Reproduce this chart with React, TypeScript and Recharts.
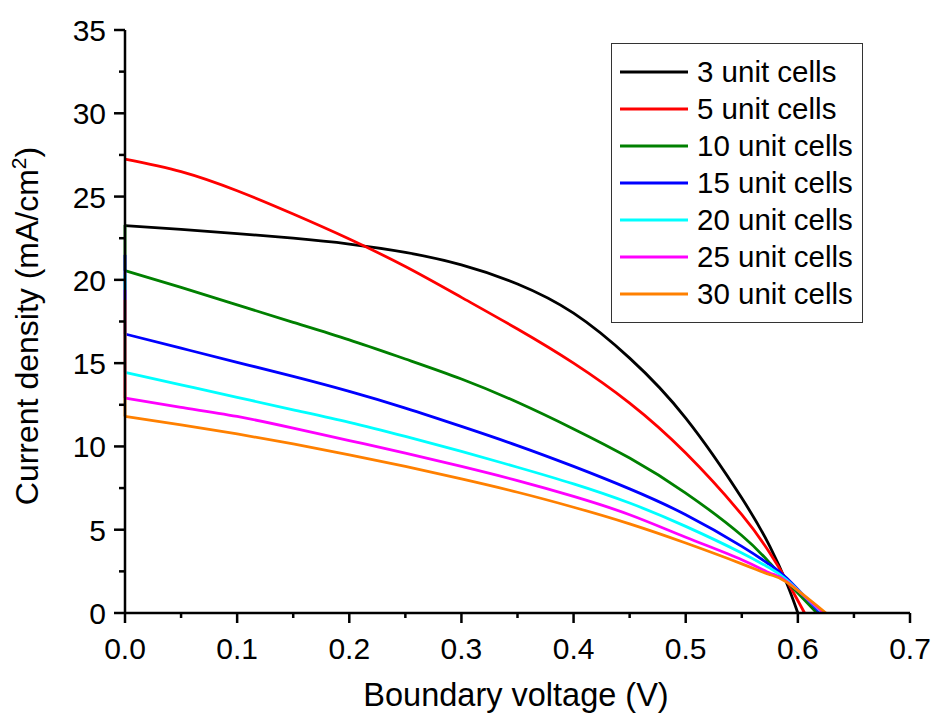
import { Legend, Line, LineChart, XAxis, YAxis } from "recharts";

// shared voltage grid (V); each series ends at its own open-circuit voltage
const voltages = [0, 0.05, 0.1, 0.15, 0.2, 0.25, 0.3, 0.35, 0.4, 0.45, 0.5, 0.55, 0.575, 0.59];

const j3 = [23.25, 23.03, 22.78, 22.5, 22.15, 21.65, 20.9, 19.75, 18.0, 15.3, 11.7, 6.9, 4.0, 1.8];
const j5 = [27.25, 26.5, 25.35, 23.95, 22.45, 20.8, 18.95, 17.05, 15.0, 12.6, 9.6, 5.9, 3.6, 1.95];
const j10 = [20.55, 19.55, 18.5, 17.45, 16.4, 15.25, 14.05, 12.65, 11.05, 9.3, 7.2, 4.65, 3.0, 1.9];
const j15 = [16.75, 15.9, 15.05, 14.2, 13.3, 12.3, 11.2, 10.05, 8.8, 7.45, 5.9, 4.0, 2.9, 2.1];
const j20 = [14.45, 13.7, 12.95, 12.2, 11.45, 10.6, 9.7, 8.75, 7.75, 6.6, 5.2, 3.6, 2.7, 2.0];
const j25 = [12.9, 12.35, 11.8, 11.1, 10.35, 9.6, 8.8, 7.95, 7.0, 5.9, 4.55, 3.2, 2.4, 1.9];
const j30 = [11.8, 11.3, 10.75, 10.15, 9.5, 8.8, 8.05, 7.25, 6.35, 5.35, 4.2, 2.95, 2.3, 1.85];

const seriesNames = ["3 unit cells", "5 unit cells", "10 unit cells", "15 unit cells", "20 unit cells", "25 unit cells", "30 unit cells"];
const seriesColors = ["#000000", "#ff0000", "#008000", "#0000ff", "#00ffff", "#ff00ff", "#ff8000"];
const seriesCurrents = [j3, j5, j10, j15, j20, j25, j30];
const openCircuit = [0.6, 0.606, 0.617, 0.62, 0.622, 0.623, 0.625];
// short vertical jump at V = 0 (null = none visible)
const spikeTops = [null, null, 23.3, 21.5, 20.3, 19.4, 18.8];

const xMajor = [0, 0.1, 0.2, 0.3, 0.4, 0.5, 0.6, 0.7];
const xMinor = [0.05, 0.15, 0.25, 0.35, 0.45, 0.55, 0.65];
const yMajor = [0, 5, 10, 15, 20, 25, 30, 35];
const yMinor = [2.5, 7.5, 12.5, 17.5, 22.5, 27.5, 32.5];

const FONT = "'Liberation Sans', Arial, sans-serif";

const series = seriesNames.map((name, i) => ({
  name,
  color: seriesColors[i],
  data: [
    ...voltages.map((v, k) => ({ v, j: seriesCurrents[i][k] })),
    { v: openCircuit[i], j: 0 },
  ],
  spike: spikeTops[i] == null ? null : [
    { v: 0, j: spikeTops[i] },
    { v: 0, j: seriesCurrents[i][0] },
  ],
}));

const isMajor = (list: number[], val: number) => list.some((m) => Math.abs(m - val) < 1e-6);

function XTick({ x, y, payload }: any) {
  const major = isMajor(xMajor, payload.value);
  return (
    <g>
      <line x1={x} x2={x} y1={y} y2={y + (major ? 10 : 5)} stroke="#000" strokeWidth={2.5} />
      {major && (
        <text x={x} y={y + 46} textAnchor="middle" fontSize={30} fontFamily={FONT} fill="#000">
          {payload.value.toFixed(1)}
        </text>
      )}
    </g>
  );
}

function YTick({ x, y, payload }: any) {
  const major = isMajor(yMajor, payload.value);
  return (
    <g>
      <line x1={x} x2={x - (major ? 11 : 6)} y1={y} y2={y} stroke="#000" strokeWidth={2.5} />
      {major && (
        <text x={x - 19} y={y + 11} textAnchor="end" fontSize={30} fontFamily={FONT} fill="#000">
          {payload.value}
        </text>
      )}
    </g>
  );
}

function LegendBox() {
  return (
    <div
      style={{
        width: 252,
        height: 280,
        boxSizing: "border-box",
        border: "1.5px solid #333",
        background: "#fff",
        paddingTop: 9,
      }}
    >
      {series.map((s) => (
        <div key={s.name} style={{ display: "flex", alignItems: "center", height: 37 }}>
          <svg width={68} height={6} style={{ marginLeft: 8 }}>
            <line x1={0} x2={68} y1={3} y2={3} stroke={s.color} strokeWidth={3} />
          </svg>
          <span style={{ marginLeft: 9, fontSize: 29.5, fontFamily: FONT, color: "#000", lineHeight: "37px" }}>
            {s.name}
          </span>
        </div>
      ))}
    </div>
  );
}

export default function App() {
  return (
    <div style={{ position: "absolute", left: 0, top: 0, width: 933, height: 713, background: "#fff" }}>
      <LineChart width={933} height={713} margin={{ top: 30, right: 23, left: 0, bottom: 0 }}>
        <XAxis
          type="number"
          dataKey="v"
          domain={[0, 0.7]}
          ticks={[...xMajor, ...xMinor].sort((a, b) => a - b)}
          interval={0}
          height={100}
          tickSize={0}
          tickMargin={0}
          tickLine={false}
          axisLine={{ stroke: "#000", strokeWidth: 2.5 }}
          tick={<XTick />}
          allowDuplicatedCategory={false}
          label={{
            content: () => (
              <text x={516} y={706} textAnchor="middle" fontSize={32.5} fontFamily={FONT} fill="#000">
                Boundary voltage (V)
              </text>
            ),
          }}
        />
        <YAxis
          type="number"
          dataKey="j"
          domain={[0, 35]}
          ticks={[...yMajor, ...yMinor].sort((a, b) => a - b)}
          interval={0}
          width={125}
          tickSize={0}
          tickMargin={0}
          tickLine={false}
          axisLine={{ stroke: "#000", strokeWidth: 2.5 }}
          tick={<YTick />}
          label={{
            content: () => (
              <text
                x={38}
                y={326}
                transform="rotate(-90 38 326)"
                textAnchor="middle"
                fontSize={32}
                fontFamily={FONT}
                fill="#000"
              >
                Current density (mA/cm
                <tspan dy={-12} fontSize={21}>2</tspan>
                <tspan dy={12}>)</tspan>
              </text>
            ),
          }}
        />
        <Legend
          layout="vertical"
          align="center"
          verticalAlign="middle"
          wrapperStyle={{ position: "absolute", left: 611, top: 43, width: 252 }}
          content={() => <LegendBox />}
        />
        {series.flatMap((s) => {
          const out = [];
          if (s.spike) {
            out.push(
              <Line
                key={s.name + "-spike"}
                data={s.spike}
                dataKey="j"
                type="linear"
                stroke={s.color}
                strokeWidth={2.8}
                dot={false}
                activeDot={false}
                legendType="none"
                isAnimationActive={false}
              />
            );
          }
          out.push(
            <Line
              key={s.name}
              data={s.data}
              dataKey="j"
              name={s.name}
              type="natural"
              stroke={s.color}
              strokeWidth={2.8}
              dot={false}
              activeDot={false}
              isAnimationActive={false}
            />
          );
          return out;
        })}
      </LineChart>
    </div>
  );
}
